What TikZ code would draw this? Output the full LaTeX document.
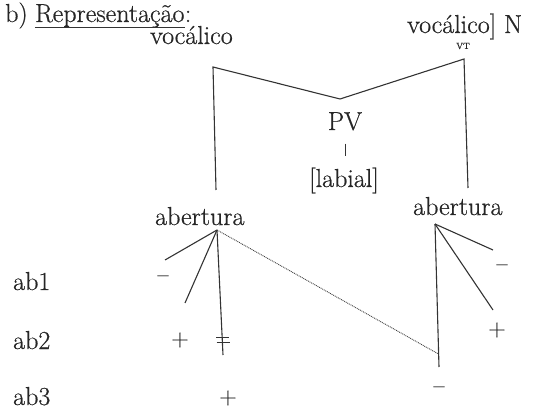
\documentclass[tikz,border=0pt]{standalone}
\usepackage{fontspec}
\setmainfont{Latin Modern Roman}
\newfontfamily\heavyrm{Latin Modern Roman}[FakeBold=0.6]
\begin{document}
\begin{tikzpicture}[x=1pt,y=-1pt,
  every node/.style={font=\heavyrm\fontsize{26}{30}\selectfont, inner sep=0pt, text=black!85},
  ln/.style={draw=black!80, line width=1.1pt},
  dl/.style={draw=black!75, line width=0.9pt, dash pattern=on 0.9pt off 0.9pt},
  sgn/.style={font=\heavyrm\fontsize{24}{26}\selectfont}]
\useasboundingbox (0,0) rectangle (543,411);
% texts
\node[anchor=base west] (tb) at (5,22) {b)};
\node[anchor=base west] (rep) at ([xshift=7pt]tb.base east) {Representação};
\node[anchor=base west] (colon) at (rep.base east) {:};
\draw[draw=black!80, line width=0.8pt] ([yshift=-5.5pt]rep.base west) -- ([yshift=-5.5pt]rep.base east);
\node[anchor=base west] (voc1) at (150,44) {vocálico};
\node[anchor=base west] (voc2) at (407,33) {vocálico] N};
\node[font=\heavyrm\fontsize{9}{10}\selectfont] (vt) at (463,46) {VT};
\node[anchor=base] (pv) at (345,130) {PV};
\node[anchor=base] (lab) at (344,187) {[labial]};
\node[anchor=base west] (abL) at (155,225) {abertura};
\node[anchor=base west] (abR) at (413,215) {abertura};
\node[anchor=base west] (ab1) at (13,290) {ab1};
\node[anchor=base west] (ab2) at (13,349) {ab2};
\node[anchor=base west] (ab3) at (13,405) {ab3};
% signs
\node[sgn] (l1) at (163,279) {–};
\node[sgn] (l2) at (180,340) {+};
\node[sgn] (l3) at (228,398) {+};
\node[sgn] (r1) at (502,268) {–};
\node[sgn] (r2) at (497,330) {+};
\node[sgn] (r3) at (439,390) {–};
% bracket
\coordinate (bl) at (216,190);
\coordinate (tl) at (213,67);
\coordinate (apex) at (340,99);
\coordinate (tr) at (464,59);
\coordinate (br) at (468,188);
\draw[ln] (bl) -- (tl) -- (apex) -- (tr) -- (br);
\draw[ln, line width=0.8pt] (pv.south) ++(0,13) -- ++(0,12);
% left branches
\coordinate (lr) at (217,230);
\coordinate (le1) at (165,260);
\coordinate (le2) at (185,303);
\coordinate (le3) at (223,355);
\draw[ln] (lr) -- (le1);
\draw[ln] (lr) -- (le2);
\draw[ln] (lr) -- (le3);
\coordinate (dk1) at (222.3,337);
\coordinate (dk2) at (222.5,342);
\draw[ln, line width=0.9pt] (dk1) ++(-6,0) -- ++(13,0);
\draw[ln, line width=0.9pt] (dk2) ++(-6,0) -- ++(13,0);
% right branches
\coordinate (rr) at (435,224);
\coordinate (re1) at (493,250);
\coordinate (re2) at (493,310);
\coordinate (re3) at (439,367);
\coordinate (rd) at (438.5,354);
\draw[ln] (rr) -- (re1);
\draw[ln] (rr) -- (re2);
\draw[ln] (rr) -- (re3);
% dotted association
\draw[dl] (lr) -- (rd);
\end{tikzpicture}
\end{document}
